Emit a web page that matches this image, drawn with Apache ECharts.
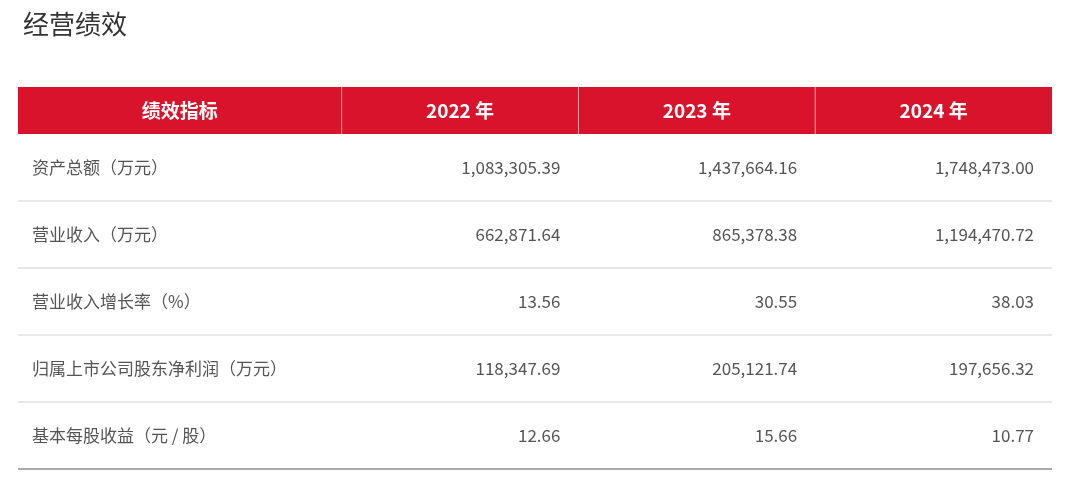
<!DOCTYPE html>
<html>
<head>
<meta charset="utf-8">
<script src="https://cdn.jsdelivr.net/npm/echarts@6/dist/echarts.min.js"></script>
<style>html,body{margin:0;background:#fff}#main{width:1080px;height:480px}</style>
</head>
<body>
<div id="main"></div>
<script>
var headers = ['绩效指标', '2022 年', '2023 年', '2024 年'];
var indicators = ['资产总额（万元）', '营业收入（万元）', '营业收入增长率（%）', '归属上市公司股东净利润（万元）', '基本每股收益（元 / 股）'];
var values2022 = ['1,083,305.39', '662,871.64', '13.56', '118,347.69', '12.66'];
var values2023 = ['1,437,664.16', '865,378.38', '30.55', '205,121.74', '15.66'];
var values2024 = ['1,748,473.00', '1,194,470.72', '38.03', '197,656.32', '10.77'];

// column edges (fraction of width) and row edges (px from table top)
var colEdges = [0, 0.313, 0.542, 0.771, 1];
var rowEdges = [0, 47, 114, 181, 248, 315, 382];
var font = '"Noto Sans CJK SC", "Noto Sans", sans-serif';

var cells = [];
headers.forEach(function (h, c) { cells.push([c, 0, h]); });
indicators.forEach(function (name, r) {
    cells.push([0, r + 1, name]);
    cells.push([1, r + 1, values2022[r]]);
    cells.push([2, r + 1, values2023[r]]);
    cells.push([3, r + 1, values2024[r]]);
});

var app = echarts.init(document.getElementById('main'));

option = {
    title: {
        text: '经营绩效', left: 18, top: 6,
        textStyle: { fontSize: 26, fontWeight: 'normal', color: '#333', fontFamily: font }
    },
    grid: { left: 18, right: 28, top: 87, bottom: 11 },
    xAxis: { type: 'value', min: 0, max: 1, show: false },
    yAxis: { type: 'value', min: 0, max: 382, inverse: true, show: false },
    series: [{
        type: 'custom',
        data: cells,
        renderItem: function (params, api) {
            var c = api.value(0), r = api.value(1);
            var text = cells[params.dataIndex][2];
            var p0 = api.coord([colEdges[c], rowEdges[r]]);
            var p1 = api.coord([colEdges[c + 1], rowEdges[r + 1]]);
            var left = api.coord([0, 0])[0], right = api.coord([1, 0])[0];
            var children = [];
            if (r === 0) {
                children.push({ type: 'rect', shape: { x: p0[0], y: p0[1], width: p1[0] - p0[0], height: p1[1] - p0[1] }, style: { fill: '#d8132b' } });
                if (c > 0) children.push({ type: 'line', shape: { x1: p0[0], y1: p0[1], x2: p0[0], y2: p1[1] }, style: { stroke: '#f2a0a8', lineWidth: 1 } });
                children.push({ type: 'text', style: { text: text, x: (p0[0] + p1[0]) / 2, y: (p0[1] + p1[1]) / 2, align: 'center', verticalAlign: 'middle', fill: '#fff', font: 'bold 19px ' + font } });
            } else {
                if (c === 0) {
                    var last = r === indicators.length;
                    children.push({ type: 'line', shape: { x1: left, y1: p1[1], x2: right, y2: p1[1] }, style: { stroke: last ? '#aaa' : '#d0d0d0', lineWidth: last ? 2 : 1 } });
                    children.push({ type: 'text', style: { text: text, x: p0[0] + 14, y: (p0[1] + p1[1]) / 2, align: 'left', verticalAlign: 'middle', fill: '#555', font: '17px ' + font } });
                } else {
                    children.push({ type: 'text', style: { text: text, x: p1[0] - 18, y: (p0[1] + p1[1]) / 2, align: 'right', verticalAlign: 'middle', fill: '#555', font: '17px ' + font } });
                }
            }
            return { type: 'group', children: children };
        }
    }]
};
app.setOption(option);
</script>
</body>
</html>
